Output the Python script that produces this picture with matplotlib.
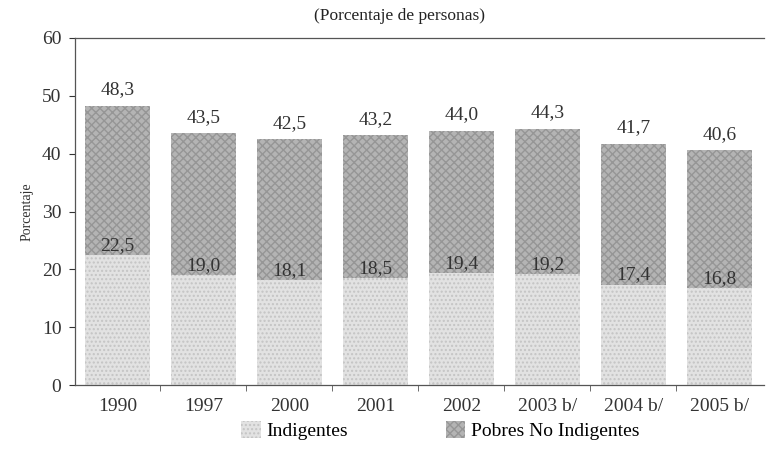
import matplotlib.pyplot as plt
import numpy as np

anios = ['1990', '1997', '2000', '2001', '2002', '2003 b/', '2004 b/', '2005 b/']
indigentes = [22.5, 19.0, 18.1, 18.5, 19.4, 19.2, 17.4, 16.8]
pobres_total = [48.3, 43.5, 42.5, 43.2, 44.0, 44.3, 41.7, 40.6]

plt.rcParams['font.family'] = ['Liberation Serif', 'DejaVu Serif']

no_indigentes = [t - i for t, i in zip(pobres_total, indigentes)]
x = np.arange(len(anios))

fig = plt.figure(figsize=(7.68, 4.63), dpi=100)
ax = fig.add_axes([0.098, 0.168, 0.897, 0.75])

ancho = 0.75
ax.bar(x, indigentes, width=ancho, color='#e2e2e2', edgecolor='#c4c4c4',
       hatch='....', linewidth=0, label='Indigentes')
ax.bar(x, no_indigentes, bottom=indigentes, width=ancho, color='#b4b4b4',
       edgecolor='#969696', hatch='xxxx', linewidth=0, label='Pobres No Indigentes')

# etiquetas de valores
for xi, ind, tot in zip(x, indigentes, pobres_total):
    ax.text(xi, tot + 1.3, f'{tot:.1f}'.replace('.', ','), ha='center', va='bottom',
            fontsize=14, color='#333333')
    ax.text(xi, ind + 0.2, f'{ind:.1f}'.replace('.', ','), ha='center', va='bottom',
            fontsize=14, color='#333333')

ax.set_xlim(-0.49, 7.52)
ax.set_ylim(0, 60)
ax.set_yticks(range(0, 61, 10))
ax.tick_params(axis='y', labelsize=14, length=4, colors='#333333', pad=6)

ax.set_xticks(x)
ax.set_xticklabels(anios, fontsize=14, color='#333333')
ax.tick_params(axis='x', length=0, pad=9)
ax.set_xticks(x[:-1] + 0.5, minor=True)
ax.tick_params(axis='x', which='minor', length=4, direction='out', color='#555555')

for lado in ['left', 'bottom', 'top']:
    ax.spines[lado].set_color('#555555')
    ax.spines[lado].set_linewidth(0.9)
ax.spines['right'].set_visible(False)

ax.set_ylabel('Porcentaje', fontsize=10, color='#333333', labelpad=6)
fig.text(0.52, 0.965, '(Porcentaje de personas)', ha='center', va='center',
         fontsize=12.5, color='#222222')

ax.legend(loc='center', bbox_to_anchor=(0.53, -0.13), ncol=2, frameon=False,
          fontsize=14, handlelength=1.0, handleheight=1.0, columnspacing=5.0,
          handletextpad=0.3)

fig.savefig('out.png', dpi=100)
